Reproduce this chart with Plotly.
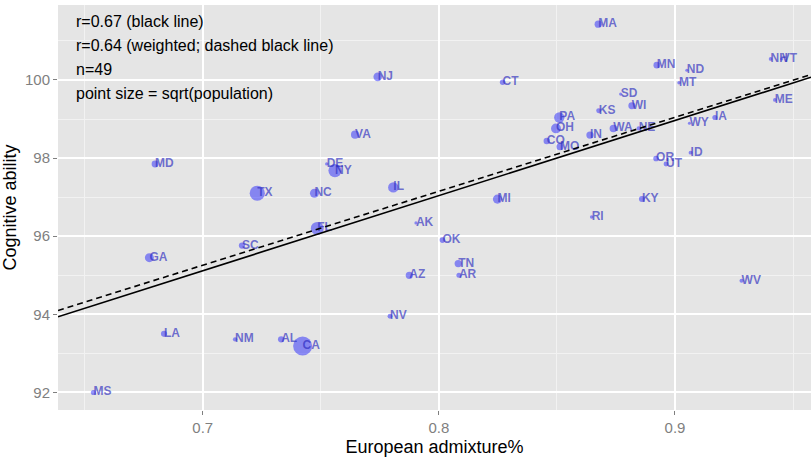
import numpy as np
import plotly.graph_objects as go

states = ["MS","GA","LA","MD","TX","SC","NM","AL","CA","NC","FL","DE","NY","VA","NJ",
          "IL","NV","AZ","AK","OK","TN","AR","MI","CT","PA","OH","CO","MO","IN","RI",
          "KS","MA","SD","WA","WI","NE","KY","MN","OR","UT","ND","MT","ID","WY","IA",
          "WV","NH","VT","ME"]
european = [0.6537,0.6774,0.6836,0.6798,0.7231,0.7166,0.7137,0.7332,0.7423,0.7473,0.7485,0.7525,0.7560,0.7645,0.7741,
            0.7807,0.7793,0.7875,0.7903,0.8015,0.8082,0.8085,0.8248,0.8270,0.8510,0.8496,0.8457,0.8513,0.8640,0.8647,
            0.8677,0.8675,0.8770,0.8739,0.8817,0.8846,0.8860,0.8923,0.8920,0.8962,0.9050,0.9017,0.9066,0.9061,0.9169,
            0.9282,0.9405,0.9452,0.9423]
cognitive = [92.00,95.45,93.50,97.85,97.10,95.76,93.36,93.36,93.19,97.10,96.20,97.85,97.68,98.60,100.08,
             97.25,93.95,95.00,96.34,95.90,95.30,95.00,96.95,99.94,99.04,98.76,98.44,98.29,98.59,96.49,
             99.21,101.43,99.64,98.76,99.34,98.76,96.95,100.38,97.99,97.85,100.25,99.93,98.14,98.89,99.04,
             94.86,100.54,100.54,99.49]
population_m = [2.97,9.69,4.53,5.77,25.15,4.63,2.06,4.78,37.25,9.54,18.80,0.90,19.38,8.00,8.79,
                12.83,2.70,6.39,0.71,3.75,6.35,2.92,9.88,3.57,12.70,11.54,5.03,5.99,6.48,1.05,
                2.85,6.55,0.81,6.72,5.69,1.83,4.34,5.30,3.83,2.76,0.67,0.99,1.57,0.56,3.05,
                1.85,1.32,0.63,1.33]
# weighted fit (intercept, slope)
weighted_fit = [82.00, 18.94]
notes = ["r=0.67 (black line)", "r=0.64 (weighted; dashed black line)", "n=49",
         "point size = sqrt(population)"]
x_ticks = [0.7, 0.8, 0.9]
y_ticks = [92, 94, 96, 98, 100]

x = np.array(european)
y = np.array(cognitive)
pop = np.array(population_m)

# marker sizes from sqrt(population)
s = np.sqrt(pop)
t = (s - s.min()) / (s.max() - s.min())
sizes = 3 + 16 * t ** 1.2

x_range = [0.6387, 0.9576]
y_range = [91.55, 101.92]

# ordinary least squares fit
b1, a1 = np.polyfit(x, y, 1)
a2, b2 = weighted_fit
xl = np.array(x_range)

FONT = "Arial, Liberation Sans, sans-serif"

fig = go.Figure()
fig.add_trace(go.Scatter(x=x, y=y, mode="markers",
                         marker=dict(size=sizes, color="rgba(0,0,255,0.6)", line=dict(width=0)),
                         hoverinfo="skip", showlegend=False))
fig.add_trace(go.Scatter(x=x, y=y, mode="text", text=states, textposition="middle right",
                         textfont=dict(family=FONT, size=12, weight="bold",
                                       color="rgba(40,40,190,0.65)"),
                         hoverinfo="skip", showlegend=False))
fig.add_trace(go.Scatter(x=xl, y=a1 + b1 * xl, mode="lines",
                         line=dict(color="black", width=1.6), showlegend=False))
fig.add_trace(go.Scatter(x=xl, y=a2 + b2 * xl, mode="lines",
                         line=dict(color="black", width=1.6, dash="6px,4px"), showlegend=False))

for i, n in enumerate(notes):
    fig.add_annotation(xref="paper", yref="paper", x=0.0212, y=1 - (16 + 24.3 * i) / 405,
                       xanchor="left", yanchor="middle", text=n, showarrow=False,
                       font=dict(family=FONT, size=16, color="black"))

fig.update_layout(
    width=811, height=457,
    margin=dict(l=58, r=0, t=5, b=47, autoexpand=False),
    plot_bgcolor="#E5E5E5", paper_bgcolor="white",
    font=dict(family=FONT),
)
fig.update_xaxes(range=x_range, tickvals=x_ticks, ticktext=[str(v) for v in x_ticks],
                 showgrid=True, gridcolor="white", gridwidth=1.6, zeroline=False,
                 ticks="outside", ticklen=4, tickcolor="#7F7F7F", tickwidth=1,
                 tickfont=dict(size=15, color="#7F7F7F"),
                 minor=dict(tickvals=[0.65, 0.75, 0.85, 0.95], showgrid=True,
                            gridcolor="#F2F2F2", gridwidth=0.8, ticks=""),
                 title=dict(text="European admixture%", font=dict(size=18, color="black"), standoff=5))
fig.update_yaxes(range=y_range, tickvals=y_ticks,
                 showgrid=True, gridcolor="white", gridwidth=1.6, zeroline=False,
                 ticks="outside", ticklen=4, tickcolor="#7F7F7F", tickwidth=1,
                 tickfont=dict(size=15, color="#7F7F7F"),
                 minor=dict(tickvals=[93, 95, 97, 99, 101], showgrid=True,
                            gridcolor="#F2F2F2", gridwidth=0.8, ticks=""),
                 title=dict(text="Cognitive ability", font=dict(size=18, color="black"), standoff=3))

fig.write_html("out.html", config={"displayModeBar": False},
               post_script="document.body.style.margin='0';document.body.style.overflow='hidden';")
